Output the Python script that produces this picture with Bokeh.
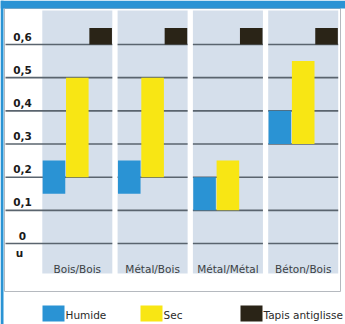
from bokeh.plotting import figure
from bokeh.models import Range1d
from bokeh.core.properties import value
from bokeh.embed import file_html
from bokeh.resources import INLINE

# ---- data ----
categories = ["Bois/Bois", "Métal/Bois", "Métal/Métal", "Béton/Bois"]
humide_low = [0.15, 0.15, 0.10, 0.30]
humide_high = [0.25, 0.25, 0.20, 0.40]
sec_low = [0.20, 0.20, 0.10, 0.30]
sec_high = [0.50, 0.50, 0.25, 0.55]
tapis_low = [0.60, 0.60, 0.60, 0.60]
tapis_high = [0.65, 0.65, 0.65, 0.65]
y_ticks = [0.6, 0.5, 0.4, 0.3, 0.2, 0.1, 0.0]
y_labels = ["0,6", "0,5", "0,4", "0,3", "0,2", "0,1", "0"]
series_names = ["Humide", "Sec", "Tapis antiglisse"]

# ---- style ----
W, H = 345, 324
PXU_X = 75.3          # pixels per category step
X0 = -1.02            # data x at left edge
PXU_Y = 331.7         # pixels per unit of mu
Y0 = 0.6 + 44 / PXU_Y # data y at top edge

def px_x(px):
    return X0 + px / PXU_X

def px_y(py):
    return Y0 - py / PXU_Y

BLUE = "#2a93d4"
YELLOW = "#f8e614"
DARK = "#2a2417"
PANEL = "#d5dfeb"
GRID = "#5a646e"
FONT = value("DejaVu Sans")

p = figure(width=W, height=H, output_backend="svg", toolbar_location=None,
           x_range=Range1d(X0, X0 + W / PXU_X), y_range=Range1d(px_y(H), Y0),
           x_axis_location=None, y_axis_location=None, min_border=0,
           outline_line_color=None, background_fill_color="white",
           border_fill_color="white")
p.grid.visible = False

n = len(categories)
xs = list(range(n))
half = 0.465

# frame decoration
p.quad(left=[px_x(4)], right=[px_x(340)], top=[px_y(8)], bottom=[px_y(291)],
       fill_color="white", line_color="#b5b9bf", line_width=1)
p.quad(left=[px_x(0)], right=[px_x(W)], top=[px_y(0)], bottom=[px_y(8)],
       fill_color=BLUE, line_color=None)
p.quad(left=[px_x(0)], right=[px_x(3)], top=[px_y(0)], bottom=[px_y(H)],
       fill_color=BLUE, line_color=None)

# column panels
p.quad(left=[x - half for x in xs], right=[x + half for x in xs],
       top=[px_y(10)] * n, bottom=[px_y(273)] * n,
       fill_color=PANEL, line_color=None)

# grid lines (segments per column, first one extends into label area)
sx0, sx1, sy = [], [], []
for t in y_ticks:
    for i in xs:
        sx0.append(px_x(5) if i == 0 else i - half)
        sx1.append(i + half)
        sy.append(t)
p.segment(x0=sx0, x1=sx1, y0=sy, y1=sy, line_color=GRID, line_width=1.6)

# bars
off = 0.31
bw = 0.30
for lows, highs, color, dx in [(humide_low, humide_high, BLUE, -off),
                               (sec_low, sec_high, YELLOW, 0.0),
                               (tapis_low, tapis_high, DARK, off)]:
    p.vbar(x=[x + dx for x in xs], width=bw, bottom=lows, top=highs,
           fill_color=color, line_color=None)

# y labels
p.text(x=[px_x(22)] * len(y_ticks), y=[t + 8 / PXU_Y for t in y_ticks], text=y_labels,
       text_font=FONT, text_font_size="10.5px", text_font_style="bold",
       text_color="#1a1a1a", text_align="center", text_baseline="middle")
p.text(x=[px_x(19)], y=[-9 / PXU_Y], text=["u"],
       text_font=FONT, text_font_size="10.5px", text_font_style="bold",
       text_color="#1a1a1a", text_align="center", text_baseline="middle")

# category labels
p.text(x=xs, y=[px_y(268)] * n, text=categories, text_font=FONT,
       text_font_size="10.5px", text_color="#3c3f44", text_align="center",
       text_baseline="middle")

# legend
leg_px = [42, 140, 240]
leg_colors = [BLUE, YELLOW, DARK]
p.quad(left=[px_x(a) for a in leg_px], right=[px_x(a + 22) for a in leg_px],
       top=[px_y(305)] * 3, bottom=[px_y(321)] * 3,
       fill_color=leg_colors, line_color=None)
p.text(x=[px_x(a + 23) for a in leg_px], y=[px_y(314)] * 3, text=series_names,
       text_font=FONT, text_font_size="10.5px", text_color="#2a2a2a",
       text_align="left", text_baseline="middle")

open("out.html", "w").write(file_html(p, INLINE))
